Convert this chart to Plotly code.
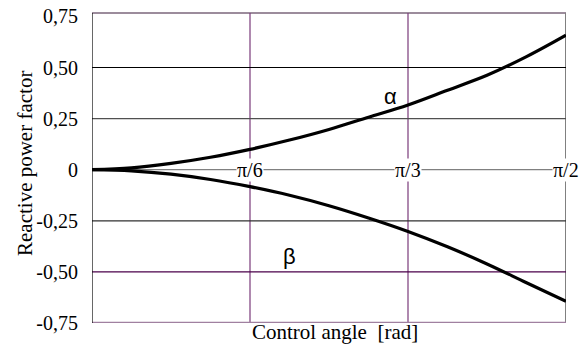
import math
import plotly.graph_objects as go

# control angle samples (steps of pi/24) and curve values
angle_steps = list(range(13))
alpha_vals = [0, 0.009, 0.031, 0.061, 0.0995, 0.145, 0.197, 0.257, 0.317, 0.389, 0.462, 0.553, 0.658]
beta_vals = [0, -0.006, -0.022, -0.048, -0.083, -0.125, -0.176, -0.236, -0.302, -0.377, -0.461, -0.553, -0.644]

y_ticks = [0.75, 0.5, 0.25, 0, -0.25, -0.5, -0.75]
y_tick_text = ["0,75", "0,50", "0,25", "0", "-0,25", "-0,50", "-0,75"]
x_ticks = [math.pi / 6, math.pi / 3, math.pi / 2]
x_tick_text = ["\u03c0/6", "\u03c0/3", "\u03c0/2"]

angles = [k * math.pi / 24 for k in angle_steps]

SERIF = "Liberation Serif"
SANS = "Liberation Sans"

W, H = 587, 358
ML, MR, MT, MB = 92, 21, 13, 35

fig = go.Figure()

# grid lines as shapes so each one can keep its own colour
h_colors = {0.5: "#000000", 0.25: "#505050", 0: "#808080",
            -0.25: "#303030", -0.5: "#4a004a", -0.75: "#a080a0"}
h_widths = {-0.75: 2.5}
for yv, col in h_colors.items():
    fig.add_shape(type="line", xref="x", yref="y", x0=0, x1=math.pi / 2, y0=yv, y1=yv,
                  line=dict(color=col, width=h_widths.get(yv, 1.2)), layer="below")
# top border of the frame (sits a little above the 0,75 label)
fig.add_shape(type="line", xref="x", yref="paper", x0=0, x1=math.pi / 2, y0=1, y1=1,
              line=dict(color="#3a1a3a", width=1.2), layer="below")

v_colors = ["#7a3a7a", "#7a3a7a", "#808080"]
v_widths = [1.2, 1.2, 2]
for xv, col, w in zip(x_ticks, v_colors, v_widths):
    fig.add_shape(type="line", xref="x", yref="paper", x0=xv, x1=xv, y0=0, y1=1,
                  line=dict(color=col, width=w), layer="below")

# left axis line
fig.add_shape(type="line", xref="x", yref="paper", x0=0, x1=0, y0=0, y1=1,
              line=dict(color="black", width=1.2))

fig.add_trace(go.Scatter(x=angles, y=alpha_vals, mode="lines", line=dict(color="black", width=3.2, shape="spline"),
                         showlegend=False, hoverinfo="skip"))
fig.add_trace(go.Scatter(x=angles, y=beta_vals, mode="lines", line=dict(color="black", width=3.2, shape="spline"),
                         showlegend=False, hoverinfo="skip"))

# x tick labels sit on the zero line with a white box behind them
for xv, txt in zip(x_ticks, x_tick_text):
    fig.add_annotation(x=xv, y=0, xref="x", yref="y", text=txt, showarrow=False,
                       font=dict(family=SERIF, size=20, color="black"), bgcolor="white",
                       borderpad=0, xanchor="center", yanchor="middle")

fig.add_annotation(x=0.99, y=0.36, xref="x", yref="y", text="\u03b1", showarrow=False,
                   font=dict(family=SANS, size=22, color="black"))
fig.add_annotation(x=0.655, y=-0.425, xref="x", yref="y", text="\u03b2", showarrow=False,
                   font=dict(family=SANS, size=22, color="black"))

# axis titles placed by hand (pixel positions converted to paper coords)
pw, ph = W - ML - MR, H - MT - MB
fig.add_annotation(x=(335 - ML) / pw, y=(H - MB - 346) / ph, xref="paper", yref="paper",
                   text="Control angle&nbsp;&nbsp;[rad]", showarrow=False,
                   font=dict(family=SERIF, size=21, color="black"))
fig.add_annotation(x=(25 - ML) / pw, y=(H - MB - 164) / ph, xref="paper", yref="paper",
                   xanchor="center", yanchor="middle",
                   text="Reactive power factor", showarrow=False, textangle=-90,
                   font=dict(family=SERIF, size=21, color="black"))

fig.update_layout(
    width=W, height=H,
    margin=dict(l=ML, r=MR, t=MT, b=MB),
    paper_bgcolor="white", plot_bgcolor="white",
    font=dict(family=SERIF, size=19, color="black"),
    xaxis=dict(range=[0, math.pi / 2], showgrid=False, zeroline=False, showticklabels=False,
               ticks="", fixedrange=True, automargin=False),
    yaxis=dict(range=[-0.75, 0.7667], tickvals=y_ticks, ticktext=y_tick_text, showgrid=False,
               zeroline=False, ticks="outside", ticklen=9, tickcolor="rgba(0,0,0,0)",
               fixedrange=True, automargin=False, ticklabeloverflow="allow",
               tickfont=dict(family=SERIF, size=20)),
)

# drop the browser's default 8px body margin so the figure fills the window
fig.write_html("out.html", config={"displayModeBar": False},
               post_script="document.body.style.margin = '0';")
